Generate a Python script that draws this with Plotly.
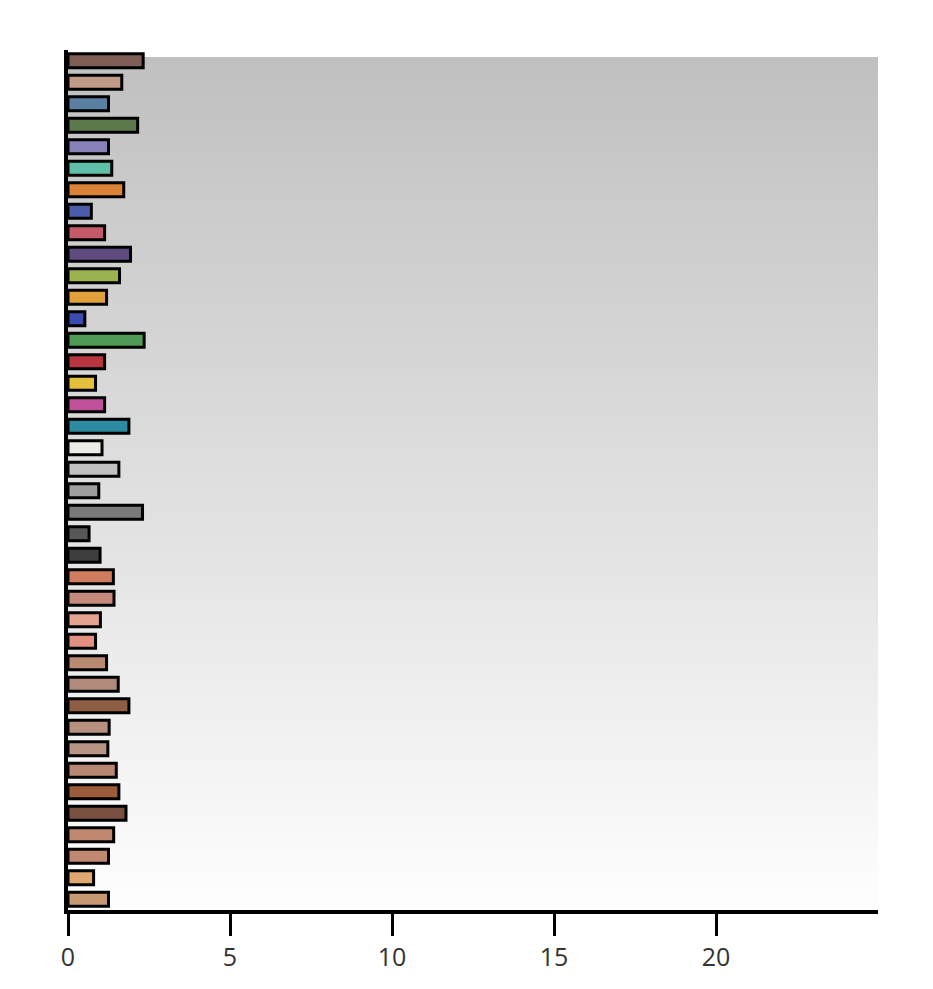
import plotly.graph_objects as go

categories = [f"Item {i}" for i in range(1, 41)]
values = [2.32, 1.66, 1.25, 2.15, 1.25, 1.35, 1.72, 0.72, 1.13, 1.93,
          1.59, 1.19, 0.52, 2.35, 1.13, 0.85, 1.13, 1.88, 1.05, 1.57,
          0.95, 2.30, 0.65, 0.99, 1.40, 1.42, 1.00, 0.85, 1.19, 1.55,
          1.88, 1.27, 1.23, 1.49, 1.57, 1.79, 1.41, 1.25, 0.79, 1.25]
colors = ["#7f5f55", "#c09a88", "#5b7fa0", "#5d7a4d", "#8682b8", "#5fbfa8", "#d98238", "#4b5eac", "#c45a6a", "#5e4a7e",
          "#9ab34e", "#e0a03a", "#3d4ab0", "#4f9a55", "#b83640", "#e2c03a", "#c0509a", "#2e8aa0", "#ececE6", "#c0c0c0",
          "#9e9e9e", "#7a7a7a", "#575757", "#3e3e3e", "#d07c5e", "#c48a7c", "#e4a290", "#e49080", "#b88a70", "#b08a7a",
          "#8e5e44", "#b89080", "#b89484", "#b88874", "#9c5c3a", "#7a5040", "#c08870", "#c08870", "#e0a870", "#c89a72"]
x_ticks = [0, 5, 10, 15, 20]

fig = go.Figure()
fig.add_trace(go.Bar(
    y=categories, x=values, orientation="h",
    marker=dict(color=colors, line=dict(color="#000000", width=3)),
    width=0.65, showlegend=False,
))

# gradient background (grey at top to white at bottom)
n = 120
top_p, bot_p = 0.992, 0.0
shapes = []
for i in range(n):
    y0 = bot_p + (top_p - bot_p) * i / n
    y1 = bot_p + (top_p - bot_p) * (i + 1) / n + 0.001
    t = (i + 0.5) / n  # 0 bottom, 1 top
    c = int(round(254 - (254 - 192) * t))
    shapes.append(dict(type="rect", xref="x domain", yref="paper", x0=0, x1=1,
                       y0=y0, y1=min(y1, top_p), fillcolor=f"rgb({c},{c},{c})",
                       line=dict(width=0), layer="below"))

fig.update_layout(
    width=933, height=989,
    margin=dict(l=60, r=63, t=42, b=87),
    paper_bgcolor="white", plot_bgcolor="white",
    shapes=shapes,
    font=dict(family="Open Sans, Noto Sans, sans-serif", size=25, color="#333333"),
    xaxis=dict(range=[0, 25], tickvals=x_ticks, showgrid=False, zeroline=False,
               showline=True, linecolor="#000000", linewidth=3.5,
               ticks="outside", ticklen=22, tickwidth=3, tickcolor="#000000",
               tickfont=dict(size=25, color="#333333")),
    yaxis=dict(categoryorder="array", categoryarray=categories, autorange="reversed",
               showticklabels=False, showgrid=False, zeroline=False,
               showline=True, linecolor="#000000", linewidth=4, ticks=""),
)

fig.write_html("out.html")
